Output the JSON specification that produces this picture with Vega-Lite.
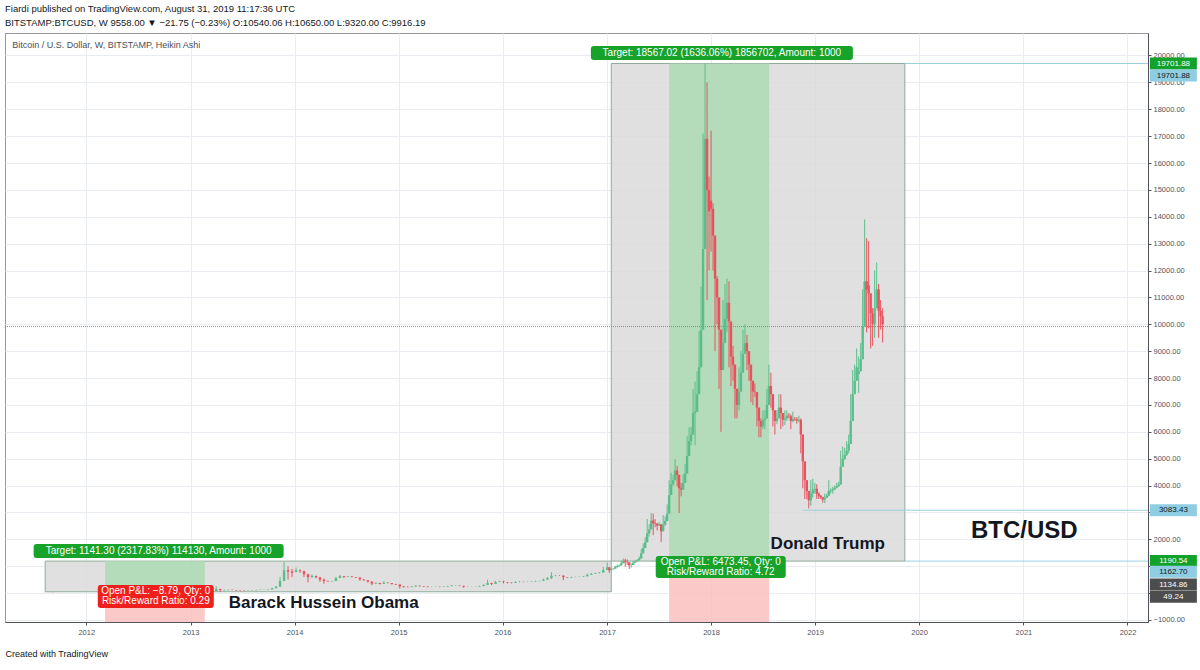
{
  "$schema": "https://vega.github.io/schema/vega-lite/v6.json",
  "width": 1143,
  "height": 589,
  "autosize": "none",
  "padding": {"left": 5, "top": 33, "right": 52, "bottom": 48},
  "background": "white",
  "config": {
    "view": {"stroke": "#9598a1", "strokeWidth": 1},
    "font": "Liberation Sans",
    "scale": {"continuousPadding": 0},
    "axis": {"labelOverlap": false, "labelBound": false},
    "axisX": {
      "grid": true, "gridColor": "#e9ecf0", "domainColor": "#50535e", "tickColor": "#50535e",
      "tickSize": 3, "labelFontSize": 7.5, "labelColor": "#50535e", "labelFont": "Liberation Sans",
      "labelPadding": 3, "labelOverlap": false, "labelFlush": false,
      "titleFontSize": 9, "titleFontWeight": "normal", "titleColor": "#131722",
      "titleFont": "Liberation Sans", "titlePadding": 14, "titleAnchor": "start", "titleAlign": "left"
    },
    "axisY": {
      "grid": true, "gridColor": "#e9ecf0", "domainColor": "#50535e",
      "tickColor": "#50535e", "tickSize": 3, "labelFontSize": 7.5, "labelColor": "#50535e",
      "labelFont": "Liberation Sans", "labelPadding": 2, "labelOverlap": false, "labelFlush": false
    }
  },
  "title": {
    "text": "Fiardi published on TradingView.com, August 31, 2019 11:17:36 UTC",
    "subtitle": "BITSTAMP:BTCUSD, W  9558.00 ▼ −21.75 (−0.23%) O:10540.06 H:10650.00 L:9320.00 C:9916.19",
    "anchor": "start",
    "frame": "group",
    "orient": "top",
    "offset": 6,
    "font": "Liberation Sans",
    "fontSize": 9.5,
    "fontWeight": "normal",
    "color": "#131722",
    "subtitleFont": "Liberation Sans",
    "subtitleFontSize": 9.5,
    "subtitleFontWeight": "normal",
    "subtitleColor": "#131722",
    "subtitlePadding": 4
  },
  "layer": [
    {
      "data": {"values": [
        {"z": "box", "a": "2011-08-10", "b": "2017-01-16", "lo": 49.24, "hi": 1190.54},
        {"z": "box", "a": "2017-01-16", "b": "2019-11-12", "lo": 1190.54, "hi": 19701.88},
        {"z": "tgt", "a": "2012-03-07", "b": "2013-02-20", "lo": 49.24, "hi": 1190.54},
        {"z": "tgt", "a": "2017-08-07", "b": "2018-07-24", "lo": 1134.86, "hi": 19701.88},
        {"z": "stop", "a": "2012-03-07", "b": "2013-02-20", "lo": -2000, "hi": 49.24},
        {"z": "stop", "a": "2017-08-07", "b": "2018-07-24", "lo": -2000, "hi": 1134.86}
      ]},
      "mark": {"type": "rect", "clip": true, "fillOpacity": 0.85, "strokeWidth": 1},
      "encoding": {
        "x": {
          "field": "a", "type": "temporal",
          "scale": {"domain": [{"year": 2011, "month": 3, "date": 22}, {"year": 2022, "month": 3, "date": 14}], "nice": false, "padding": 0},
          "axis": {
            "format": "%Y", "tickCount": {"interval": "year", "step": 1},
            "title": "Created with TradingView", "titleAnchor": "start", "titleAlign": "left"
          }
        },
        "x2": {"field": "b"},
        "y": {
          "field": "lo", "type": "quantitative",
          "scale": {"domain": [-1075, 20837], "nice": false, "zero": false, "padding": 0},
          "axis": {
            "orient": "right",
            "values": [-1000, 0, 1000, 2000, 3000, 4000, 5000, 6000, 7000, 8000, 9000, 10000, 11000, 12000, 13000, 14000, 15000, 16000, 17000, 18000, 19000, 20000],
            "tickCount": 40,
            "format": ".2f", "labelOverlap": false, "title": null
          }
        },
        "y2": {"field": "hi"},
        "fill": {"condition": [{"test": "datum.z === 'box'", "value": "#dbdbdb"}, {"test": "datum.z === 'tgt'", "value": "#addbb3"}], "value": "#fcbfbf"},
        "stroke": {"condition": {"test": "datum.z === 'box'", "value": "#8fab9a"}, "value": null}
      }
    },
    {
      "data": {"values": [
        {"p": 19701.88, "a": "2019-11-12"},
        {"p": 3083.43, "a": "2018-11-20"},
        {"p": 1190.54, "a": "2019-11-12"}
      ]},
      "mark": {"type": "rule", "color": "#9ccfe0", "strokeWidth": 1},
      "encoding": {
        "x": {"field": "a", "type": "temporal"},
        "x2": {"datum": {"year": 2022, "month": 3, "date": 14}},
        "y": {"field": "p", "type": "quantitative"}
      }
    },
    {
      "data": {"values": [{"p": 9916.19}]},
      "mark": {"type": "rule", "color": "#ef5350", "strokeWidth": 1, "strokeDash": [1, 1], "opacity": 0.9},
      "encoding": {"y": {"field": "p", "type": "quantitative"}}
    },
    {
      "data": {"name": "candles"},
      "layer": [
        {
          "mark": {"type": "rule", "strokeWidth": 1, "clip": true},
          "encoding": {
            "x": {"field": "d", "type": "temporal"},
            "y": {"field": "l", "type": "quantitative"},
            "y2": {"field": "h"},
            "color": {"condition": {"test": "datum.c >= datum.o", "value": "#5bbd8b"}, "value": "#e8525e"}
          }
        },
        {
          "mark": {"type": "bar", "width": 2.4, "clip": true},
          "encoding": {
            "x": {"field": "d", "type": "temporal"},
            "y": {"field": "o", "type": "quantitative"},
            "y2": {"field": "c"},
            "color": {"condition": {"test": "datum.c >= datum.o", "value": "#5bbd8b"}, "value": "#e8525e"}
          }
        }
      ]
    },
    {
      "data": {"values": [{"d": "2011-04-16", "p": 20390, "t": "Bitcoin / U.S. Dollar, W, BITSTAMP, Heikin Ashi"}]},
      "mark": {"type": "text", "align": "left", "baseline": "middle", "fontSize": 9, "color": "#4a4e5a", "font": "Liberation Sans"},
      "encoding": {
        "x": {"field": "d", "type": "temporal"},
        "y": {"field": "p", "type": "quantitative"},
        "text": {"field": "t"}
      }
    },
    {
      "data": {"values": [
        {"d": "2013-05-15", "p": -368, "t": "Barack Hussein Obama"},
        {"d": "2018-07-29", "p": 1827, "t": "Donald Trump"}
      ]},
      "mark": {"type": "text", "align": "left", "baseline": "middle", "fontSize": 17, "fontWeight": "bold", "color": "#131722", "font": "Liberation Sans"},
      "encoding": {
        "x": {"field": "d", "type": "temporal"},
        "y": {"field": "p", "type": "quantitative"},
        "text": {"field": "t"}
      }
    },
    {
      "data": {"values": [{"d": "2020-07-01", "p": 2310, "t": "BTC/USD"}]},
      "mark": {"type": "text", "align": "left", "baseline": "middle", "fontSize": 24, "fontWeight": "bold", "color": "#131722", "font": "Liberation Sans"},
      "encoding": {
        "x": {"field": "d", "type": "temporal"},
        "y": {"field": "p", "type": "quantitative"},
        "text": {"field": "t"}
      }
    },
    {
      "data": {"values": [
        {"id": "ot", "d": "2012-09-11", "p": 1566, "t": "Target: 1141.30 (2317.83%) 114130, Amount: 1000"},
        {"id": "tt", "d": "2018-02-08", "p": 20093, "t": "Target: 18567.02 (1636.06%) 1856702, Amount: 1000"},
        {"id": "op", "d": "2012-09-01", "p": -126, "t": "Open P&L: −8.79, Qty: 0\nRisk/Reward Ratio: 0.29"},
        {"id": "tp", "d": "2018-02-04", "p": 971, "t": "Open P&L: 6473.45, Qty: 0\nRisk/Reward Ratio: 4.72"}
      ]},
      "layer": [
        {
          "mark": {"type": "point", "filled": true, "opacity": 1, "strokeWidth": 0},
          "encoding": {
            "x": {"field": "d", "type": "temporal"},
            "y": {"field": "p", "type": "quantitative"},
            "shape": {"condition": [
              {"test": "datum.id === 'ot'", "value": "M-0.976,-0.056 L0.976,-0.056 Q1,-0.056 1,-0.032 L1,0.032 Q1,0.056 0.976,0.056 L-0.976,0.056 Q-1,0.056 -1,0.032 L-1,-0.032 Q-1,-0.056 -0.976,-0.056 Z"},
              {"test": "datum.id === 'tt'", "value": "M-0.977,-0.0534 L0.977,-0.0534 Q1,-0.0534 1,-0.0304 L1,0.0304 Q1,0.0534 0.977,0.0534 L-0.977,0.0534 Q-1,0.0534 -1,0.0304 L-1,-0.0304 Q-1,-0.0534 -0.977,-0.0534 Z"},
              {"test": "datum.id === 'op'", "value": "M-0.948,-0.198 L0.948,-0.198 Q1,-0.198 1,-0.146 L1,0.146 Q1,0.198 0.948,0.198 L-0.948,0.198 Q-1,0.198 -1,0.146 L-1,-0.146 Q-1,-0.198 -0.948,-0.198 Z"}
            ], "value": "M-0.954,-0.169 L0.954,-0.169 Q1,-0.169 1,-0.123 L1,0.123 Q1,0.169 0.954,0.169 L-0.954,0.169 Q-1,0.169 -1,0.123 L-1,-0.123 Q-1,-0.169 -0.954,-0.169 Z"},
            "size": {"condition": [
              {"test": "datum.id === 'ot'", "value": 62500},
              {"test": "datum.id === 'tt'", "value": 68644},
              {"test": "datum.id === 'op'", "value": 13456}
            ], "value": 16900},
            "fill": {"condition": {"test": "datum.id === 'op'", "value": "#ef1f1b"}, "value": "#17a22a"}
          }
        },
        {
          "transform": [{"filter": "indexof(datum.t, '\\n') < 0"}],
          "mark": {"type": "text", "align": "center", "baseline": "middle", "fontSize": 10, "color": "white", "font": "Liberation Sans"},
          "encoding": {
            "x": {"field": "d", "type": "temporal"},
            "y": {"field": "p", "type": "quantitative"},
            "text": {"field": "t"}
          }
        },
        {
          "transform": [{"filter": "indexof(datum.t, '\\n') >= 0"}],
          "mark": {"type": "text", "align": "center", "baseline": "middle", "fontSize": 10, "lineBreak": "\n", "lineHeight": 10, "dy": -5, "color": "white", "font": "Liberation Sans"},
          "encoding": {
            "x": {"field": "d", "type": "temporal"},
            "y": {"field": "p", "type": "quantitative"},
            "text": {"field": "t"}
          }
        }
      ]
    },
    {
      "data": {"values": [
        {"p": 19701.88, "k": "g", "t": "19701.88"},
        {"p": 3083.43, "k": "b", "t": "3083.43"},
        {"p": 1190.54, "k": "g", "t": "1190.54"}
      ]},
      "layer": [
        {
          "mark": {"type": "point", "filled": true, "opacity": 1, "strokeWidth": 0, "shape": "M-1,-0.255 L1,-0.255 L1,0.255 L-1,0.255 Z", "size": 2209},
          "encoding": {
            "x": {"datum": {"year": 2022, "month": 6, "date": 11}, "type": "temporal"},
            "y": {"field": "p", "type": "quantitative"},
            "fill": {"condition": [{"test": "datum.k === 'g'", "value": "#12a12a"}, {"test": "datum.k === 'b'", "value": "#8fcde2"}], "value": "#4d4d4d"}
          }
        },
        {
          "mark": {"type": "text", "align": "center", "baseline": "middle", "fontSize": 8, "font": "Liberation Sans"},
          "encoding": {
            "x": {"datum": {"year": 2022, "month": 6, "date": 11}, "type": "temporal"},
            "y": {"field": "p", "type": "quantitative"},
            "text": {"field": "t"},
            "color": {"condition": {"test": "datum.k === 'b'", "value": "#131722"}, "value": "white"}
          }
        }
      ]
    },
    {
      "data": {"values": [{"p": 19701.88, "k": "b", "t": "19701.88"}]},
      "layer": [
        {
          "mark": {"type": "point", "filled": true, "opacity": 1, "strokeWidth": 0, "shape": "M-1,-0.255 L1,-0.255 L1,0.255 L-1,0.255 Z", "size": 2209, "yOffset": 12},
          "encoding": {
            "x": {"datum": {"year": 2022, "month": 6, "date": 11}, "type": "temporal"},
            "y": {"field": "p", "type": "quantitative"},
            "fill": {"value": "#8fcde2"}
          }
        },
        {
          "mark": {"type": "text", "align": "center", "baseline": "middle", "fontSize": 8, "font": "Liberation Sans", "yOffset": 12, "color": "#131722"},
          "encoding": {
            "x": {"datum": {"year": 2022, "month": 6, "date": 11}, "type": "temporal"},
            "y": {"field": "p", "type": "quantitative"},
            "text": {"field": "t"}
          }
        }
      ]
    },
    {
      "data": {"values": [{"p": 1162.70, "k": "b", "t": "1162.70"}]},
      "layer": [
        {
          "mark": {"type": "point", "filled": true, "opacity": 1, "strokeWidth": 0, "shape": "M-1,-0.255 L1,-0.255 L1,0.255 L-1,0.255 Z", "size": 2209, "yOffset": 10},
          "encoding": {
            "x": {"datum": {"year": 2022, "month": 6, "date": 11}, "type": "temporal"},
            "y": {"field": "p", "type": "quantitative"},
            "fill": {"value": "#8fcde2"}
          }
        },
        {
          "mark": {"type": "text", "align": "center", "baseline": "middle", "fontSize": 8, "font": "Liberation Sans", "yOffset": 10, "color": "#131722"},
          "encoding": {
            "x": {"datum": {"year": 2022, "month": 6, "date": 11}, "type": "temporal"},
            "y": {"field": "p", "type": "quantitative"},
            "text": {"field": "t"}
          }
        }
      ]
    },
    {
      "data": {"values": [{"p": 1134.86, "k": "d", "t": "1134.86"}]},
      "layer": [
        {
          "mark": {"type": "point", "filled": true, "opacity": 1, "strokeWidth": 0, "shape": "M-1,-0.255 L1,-0.255 L1,0.255 L-1,0.255 Z", "size": 2209, "yOffset": 22},
          "encoding": {
            "x": {"datum": {"year": 2022, "month": 6, "date": 11}, "type": "temporal"},
            "y": {"field": "p", "type": "quantitative"},
            "fill": {"value": "#4d4d4d"}
          }
        },
        {
          "mark": {"type": "text", "align": "center", "baseline": "middle", "fontSize": 8, "font": "Liberation Sans", "yOffset": 22, "color": "white"},
          "encoding": {
            "x": {"datum": {"year": 2022, "month": 6, "date": 11}, "type": "temporal"},
            "y": {"field": "p", "type": "quantitative"},
            "text": {"field": "t"}
          }
        }
      ]
    },
    {
      "data": {"values": [{"p": 49.24, "k": "d", "t": "49.24"}]},
      "layer": [
        {
          "mark": {"type": "point", "filled": true, "opacity": 1, "strokeWidth": 0, "shape": "M-1,-0.255 L1,-0.255 L1,0.255 L-1,0.255 Z", "size": 2209, "yOffset": 5},
          "encoding": {
            "x": {"datum": {"year": 2022, "month": 6, "date": 11}, "type": "temporal"},
            "y": {"field": "p", "type": "quantitative"},
            "fill": {"value": "#4d4d4d"}
          }
        },
        {
          "mark": {"type": "text", "align": "center", "baseline": "middle", "fontSize": 8, "font": "Liberation Sans", "yOffset": 5, "color": "white"},
          "encoding": {
            "x": {"datum": {"year": 2022, "month": 6, "date": 11}, "type": "temporal"},
            "y": {"field": "p", "type": "quantitative"},
            "text": {"field": "t"}
          }
        }
      ]
    }
  ],
  "datasets": {
    "candles": [
      {"d":"2011-08-08","o":11,"h":13,"l":7,"c":10},
      {"d":"2011-08-22","o":10,"h":11,"l":8,"c":9},
      {"d":"2011-09-05","o":9,"h":9,"l":4,"c":6},
      {"d":"2011-09-19","o":6,"h":6,"l":4,"c":5},
      {"d":"2011-10-03","o":5,"h":5,"l":3,"c":4},
      {"d":"2011-10-17","o":4,"h":4,"l":2,"c":3},
      {"d":"2011-10-31","o":3,"h":3,"l":2,"c":3},
      {"d":"2011-11-14","o":3,"h":3,"l":2,"c":2},
      {"d":"2011-11-28","o":2,"h":3,"l":2,"c":3},
      {"d":"2011-12-12","o":3,"h":4,"l":3,"c":4},
      {"d":"2011-12-26","o":4,"h":5,"l":4,"c":5},
      {"d":"2012-01-09","o":5,"h":7,"l":5,"c":6},
      {"d":"2012-01-23","o":6,"h":6,"l":5,"c":6},
      {"d":"2012-02-06","o":6,"h":6,"l":5,"c":5},
      {"d":"2012-02-20","o":5,"h":5,"l":4,"c":5},
      {"d":"2012-03-05","o":5,"h":5,"l":4,"c":5},
      {"d":"2012-03-19","o":5,"h":5,"l":4,"c":5},
      {"d":"2012-04-02","o":5,"h":5,"l":4,"c":5},
      {"d":"2012-04-16","o":5,"h":5,"l":5,"c":5},
      {"d":"2012-04-30","o":5,"h":5,"l":5,"c":5},
      {"d":"2012-05-14","o":5,"h":5,"l":5,"c":5},
      {"d":"2012-05-28","o":5,"h":6,"l":5,"c":5},
      {"d":"2012-06-11","o":5,"h":7,"l":5,"c":6},
      {"d":"2012-06-25","o":6,"h":7,"l":6,"c":7},
      {"d":"2012-07-09","o":7,"h":8,"l":7,"c":8},
      {"d":"2012-07-23","o":8,"h":9,"l":8,"c":9},
      {"d":"2012-08-06","o":9,"h":11,"l":9,"c":10},
      {"d":"2012-08-20","o":10,"h":16,"l":8,"c":11},
      {"d":"2012-09-03","o":11,"h":12,"l":10,"c":11},
      {"d":"2012-09-17","o":11,"h":13,"l":11,"c":12},
      {"d":"2012-10-01","o":12,"h":13,"l":11,"c":12},
      {"d":"2012-10-15","o":12,"h":12,"l":11,"c":11},
      {"d":"2012-10-29","o":11,"h":11,"l":10,"c":11},
      {"d":"2012-11-12","o":11,"h":12,"l":11,"c":11},
      {"d":"2012-11-26","o":11,"h":13,"l":11,"c":12},
      {"d":"2012-12-10","o":12,"h":14,"l":12,"c":13},
      {"d":"2012-12-24","o":13,"h":14,"l":13,"c":13},
      {"d":"2013-01-07","o":13,"h":15,"l":13,"c":14},
      {"d":"2013-01-21","o":14,"h":18,"l":14,"c":17},
      {"d":"2013-02-04","o":17,"h":22,"l":17,"c":21},
      {"d":"2013-02-18","o":21,"h":30,"l":21,"c":28},
      {"d":"2013-03-04","o":28,"h":45,"l":28,"c":40},
      {"d":"2013-03-18","o":40,"h":80,"l":38,"c":70},
      {"d":"2013-04-01","o":70,"h":260,"l":70,"c":150},
      {"d":"2013-04-15","o":150,"h":160,"l":50,"c":110},
      {"d":"2013-04-29","o":110,"h":130,"l":80,"c":110},
      {"d":"2013-05-13","o":110,"h":130,"l":100,"c":120},
      {"d":"2013-05-27","o":120,"h":130,"l":100,"c":115},
      {"d":"2013-06-10","o":115,"h":115,"l":90,"c":100},
      {"d":"2013-06-24","o":100,"h":100,"l":70,"c":90},
      {"d":"2013-07-08","o":90,"h":100,"l":70,"c":85},
      {"d":"2013-07-22","o":85,"h":100,"l":85,"c":95},
      {"d":"2013-08-05","o":95,"h":110,"l":95,"c":105},
      {"d":"2013-08-19","o":105,"h":125,"l":105,"c":118},
      {"d":"2013-09-02","o":118,"h":130,"l":115,"c":125},
      {"d":"2013-09-16","o":125,"h":135,"l":120,"c":128},
      {"d":"2013-09-30","o":128,"h":150,"l":110,"c":135},
      {"d":"2013-10-14","o":135,"h":200,"l":135,"c":180},
      {"d":"2013-10-28","o":180,"h":260,"l":180,"c":240},
      {"d":"2013-11-11","o":240,"h":600,"l":240,"c":450},
      {"d":"2013-11-25","o":450,"h":1160,"l":450,"c":850},
      {"d":"2013-12-09","o":850,"h":1000,"l":500,"c":800},
      {"d":"2013-12-23","o":800,"h":900,"l":600,"c":750},
      {"d":"2014-01-06","o":780,"h":950,"l":780,"c":850},
      {"d":"2014-01-20","o":850,"h":880,"l":750,"c":820},
      {"d":"2014-02-03","o":820,"h":830,"l":600,"c":700},
      {"d":"2014-02-17","o":700,"h":720,"l":400,"c":600},
      {"d":"2014-03-03","o":600,"h":700,"l":550,"c":640},
      {"d":"2014-03-17","o":640,"h":650,"l":550,"c":590},
      {"d":"2014-03-31","o":590,"h":600,"l":420,"c":500},
      {"d":"2014-04-14","o":500,"h":540,"l":350,"c":450},
      {"d":"2014-04-28","o":450,"h":470,"l":420,"c":440},
      {"d":"2014-05-12","o":440,"h":460,"l":430,"c":450},
      {"d":"2014-05-26","o":450,"h":600,"l":450,"c":560},
      {"d":"2014-06-09","o":560,"h":680,"l":560,"c":630},
      {"d":"2014-06-23","o":630,"h":640,"l":560,"c":600},
      {"d":"2014-07-07","o":600,"h":640,"l":600,"c":620},
      {"d":"2014-07-21","o":620,"h":630,"l":580,"c":600},
      {"d":"2014-08-04","o":600,"h":600,"l":560,"c":580},
      {"d":"2014-08-18","o":580,"h":580,"l":460,"c":510},
      {"d":"2014-09-01","o":510,"h":510,"l":460,"c":480},
      {"d":"2014-09-15","o":480,"h":480,"l":390,"c":430},
      {"d":"2014-09-29","o":430,"h":430,"l":290,"c":350},
      {"d":"2014-10-13","o":350,"h":400,"l":350,"c":380},
      {"d":"2014-10-27","o":380,"h":380,"l":320,"c":340},
      {"d":"2014-11-10","o":340,"h":440,"l":340,"c":390},
      {"d":"2014-11-24","o":390,"h":400,"l":360,"c":375},
      {"d":"2014-12-08","o":375,"h":375,"l":320,"c":340},
      {"d":"2014-12-22","o":340,"h":340,"l":300,"c":320},
      {"d":"2015-01-05","o":320,"h":320,"l":170,"c":250},
      {"d":"2015-01-19","o":250,"h":260,"l":200,"c":230},
      {"d":"2015-02-02","o":230,"h":250,"l":210,"c":225},
      {"d":"2015-02-16","o":225,"h":260,"l":220,"c":245},
      {"d":"2015-03-02","o":245,"h":300,"l":245,"c":275},
      {"d":"2015-03-16","o":275,"h":280,"l":240,"c":260},
      {"d":"2015-03-30","o":260,"h":260,"l":230,"c":245},
      {"d":"2015-04-13","o":245,"h":245,"l":215,"c":230},
      {"d":"2015-04-27","o":230,"h":240,"l":220,"c":232},
      {"d":"2015-05-11","o":232,"h":245,"l":230,"c":238},
      {"d":"2015-05-25","o":238,"h":240,"l":220,"c":230},
      {"d":"2015-06-08","o":230,"h":250,"l":225,"c":240},
      {"d":"2015-06-22","o":240,"h":270,"l":240,"c":258},
      {"d":"2015-07-06","o":258,"h":300,"l":258,"c":280},
      {"d":"2015-07-20","o":280,"h":295,"l":270,"c":282},
      {"d":"2015-08-03","o":282,"h":285,"l":260,"c":270},
      {"d":"2015-08-17","o":270,"h":270,"l":200,"c":235},
      {"d":"2015-08-31","o":235,"h":240,"l":225,"c":232},
      {"d":"2015-09-14","o":232,"h":240,"l":225,"c":233},
      {"d":"2015-09-28","o":233,"h":245,"l":232,"c":240},
      {"d":"2015-10-12","o":240,"h":275,"l":240,"c":260},
      {"d":"2015-10-26","o":260,"h":330,"l":260,"c":300},
      {"d":"2015-11-09","o":300,"h":500,"l":300,"c":380},
      {"d":"2015-11-23","o":380,"h":380,"l":300,"c":340},
      {"d":"2015-12-07","o":340,"h":460,"l":340,"c":410},
      {"d":"2015-12-21","o":410,"h":460,"l":410,"c":430},
      {"d":"2016-01-04","o":430,"h":460,"l":360,"c":410},
      {"d":"2016-01-18","o":410,"h":410,"l":360,"c":390},
      {"d":"2016-02-01","o":390,"h":390,"l":360,"c":375},
      {"d":"2016-02-15","o":375,"h":440,"l":375,"c":410},
      {"d":"2016-02-29","o":410,"h":440,"l":400,"c":418},
      {"d":"2016-03-14","o":418,"h":420,"l":400,"c":412},
      {"d":"2016-03-28","o":412,"h":425,"l":410,"c":418},
      {"d":"2016-04-11","o":418,"h":440,"l":418,"c":430},
      {"d":"2016-04-25","o":430,"h":460,"l":430,"c":448},
      {"d":"2016-05-09","o":448,"h":460,"l":440,"c":452},
      {"d":"2016-05-23","o":452,"h":540,"l":452,"c":500},
      {"d":"2016-06-06","o":500,"h":600,"l":500,"c":560},
      {"d":"2016-06-20","o":560,"h":780,"l":520,"c":650},
      {"d":"2016-07-04","o":650,"h":680,"l":630,"c":655},
      {"d":"2016-07-18","o":655,"h":670,"l":640,"c":652},
      {"d":"2016-08-01","o":652,"h":655,"l":480,"c":590},
      {"d":"2016-08-15","o":590,"h":590,"l":560,"c":578},
      {"d":"2016-08-29","o":578,"h":610,"l":570,"c":595},
      {"d":"2016-09-12","o":595,"h":610,"l":590,"c":602},
      {"d":"2016-09-26","o":602,"h":615,"l":600,"c":608},
      {"d":"2016-10-10","o":608,"h":640,"l":605,"c":625},
      {"d":"2016-10-24","o":625,"h":730,"l":625,"c":680},
      {"d":"2016-11-07","o":680,"h":750,"l":680,"c":715},
      {"d":"2016-11-21","o":715,"h":760,"l":715,"c":740},
      {"d":"2016-12-05","o":740,"h":780,"l":740,"c":765},
      {"d":"2016-12-19","o":765,"h":970,"l":765,"c":860},
      {"d":"2017-01-02","o":860,"h":1140,"l":860,"c":960},
      {"d":"2017-01-09","o":960,"h":960,"l":750,"c":850},
      {"d":"2017-01-16","o":850,"h":930,"l":850,"c":890},
      {"d":"2017-01-23","o":890,"h":930,"l":880,"c":905},
      {"d":"2017-01-30","o":905,"h":1020,"l":905,"c":970},
      {"d":"2017-02-06","o":970,"h":1060,"l":940,"c":1000},
      {"d":"2017-02-13","o":1000,"h":1060,"l":990,"c":1030},
      {"d":"2017-02-20","o":1030,"h":1200,"l":1030,"c":1110},
      {"d":"2017-02-27","o":1110,"h":1290,"l":1110,"c":1200},
      {"d":"2017-03-06","o":1200,"h":1280,"l":980,"c":1150},
      {"d":"2017-03-13","o":1150,"h":1250,"l":1050,"c":1145},
      {"d":"2017-03-20","o":1145,"h":1145,"l":900,"c":1040},
      {"d":"2017-03-27","o":1040,"h":1100,"l":950,"c":1045},
      {"d":"2017-04-03","o":1045,"h":1200,"l":1045,"c":1130},
      {"d":"2017-04-10","o":1130,"h":1220,"l":1130,"c":1180},
      {"d":"2017-04-17","o":1180,"h":1260,"l":1180,"c":1220},
      {"d":"2017-04-24","o":1220,"h":1360,"l":1220,"c":1290},
      {"d":"2017-05-01","o":1290,"h":1650,"l":1290,"c":1480},
      {"d":"2017-05-08","o":1480,"h":1850,"l":1480,"c":1680},
      {"d":"2017-05-15","o":1680,"h":2080,"l":1680,"c":1890},
      {"d":"2017-05-22","o":1890,"h":2760,"l":1890,"c":2220},
      {"d":"2017-05-29","o":2220,"h":2560,"l":2100,"c":2370},
      {"d":"2017-06-05","o":2370,"h":2980,"l":2370,"c":2700},
      {"d":"2017-06-12","o":2700,"h":2960,"l":2160,"c":2600},
      {"d":"2017-06-19","o":2600,"h":2750,"l":2450,"c":2580},
      {"d":"2017-06-26","o":2580,"h":2610,"l":2330,"c":2510},
      {"d":"2017-07-03","o":2510,"h":2650,"l":2500,"c":2560},
      {"d":"2017-07-10","o":2560,"h":2560,"l":1900,"c":2300},
      {"d":"2017-07-17","o":2300,"h":2900,"l":2300,"c":2550},
      {"d":"2017-07-24","o":2550,"h":2850,"l":2500,"c":2680},
      {"d":"2017-07-31","o":2680,"h":3300,"l":2680,"c":2950},
      {"d":"2017-08-07","o":2950,"h":4200,"l":2950,"c":3650},
      {"d":"2017-08-14","o":3650,"h":4480,"l":3650,"c":4050},
      {"d":"2017-08-21","o":4050,"h":4400,"l":3990,"c":4200},
      {"d":"2017-08-28","o":4200,"h":4980,"l":4200,"c":4560},
      {"d":"2017-09-04","o":4560,"h":4730,"l":3970,"c":4400},
      {"d":"2017-09-11","o":4400,"h":4400,"l":2980,"c":3900},
      {"d":"2017-09-18","o":3900,"h":4100,"l":3600,"c":3850},
      {"d":"2017-09-25","o":3850,"h":4420,"l":3850,"c":4100},
      {"d":"2017-10-02","o":4100,"h":4800,"l":4100,"c":4450},
      {"d":"2017-10-09","o":4450,"h":5850,"l":4450,"c":5100},
      {"d":"2017-10-16","o":5100,"h":6170,"l":5100,"c":5650},
      {"d":"2017-10-23","o":5650,"h":6190,"l":5500,"c":5900},
      {"d":"2017-10-30","o":5900,"h":7600,"l":5900,"c":6700},
      {"d":"2017-11-06","o":6700,"h":7870,"l":5500,"c":6750},
      {"d":"2017-11-13","o":6750,"h":8250,"l":6750,"c":7400},
      {"d":"2017-11-20","o":7400,"h":9740,"l":7400,"c":8400},
      {"d":"2017-11-27","o":8400,"h":11400,"l":8400,"c":9800},
      {"d":"2017-12-04","o":9800,"h":17100,"l":9800,"c":12800},
      {"d":"2017-12-11","o":12800,"h":19700,"l":12800,"c":16900},
      {"d":"2017-12-18","o":16900,"h":19000,"l":10900,"c":15000},
      {"d":"2017-12-25","o":15000,"h":15500,"l":12000,"c":14200},
      {"d":"2018-01-01","o":14600,"h":17200,"l":12700,"c":14300},
      {"d":"2018-01-08","o":14300,"h":14500,"l":12000,"c":13300},
      {"d":"2018-01-15","o":13300,"h":13300,"l":9000,"c":11700},
      {"d":"2018-01-22","o":11700,"h":11800,"l":10000,"c":11000},
      {"d":"2018-01-29","o":11000,"h":11000,"l":7600,"c":9800},
      {"d":"2018-02-05","o":9800,"h":9800,"l":6000,"c":8300},
      {"d":"2018-02-12","o":8300,"h":10900,"l":8300,"c":9300},
      {"d":"2018-02-19","o":9300,"h":11500,"l":9300,"c":10200},
      {"d":"2018-02-26","o":10200,"h":11700,"l":9700,"c":10800},
      {"d":"2018-03-05","o":10800,"h":11600,"l":8400,"c":10100},
      {"d":"2018-03-12","o":10100,"h":10100,"l":7700,"c":8800},
      {"d":"2018-03-19","o":8800,"h":9200,"l":7900,"c":8500},
      {"d":"2018-03-26","o":8500,"h":8500,"l":6500,"c":7600},
      {"d":"2018-04-02","o":7600,"h":7600,"l":6500,"c":7000},
      {"d":"2018-04-09","o":7000,"h":8400,"l":6800,"c":7500},
      {"d":"2018-04-16","o":7500,"h":9000,"l":7500,"c":8200},
      {"d":"2018-04-23","o":8200,"h":9800,"l":8200,"c":8900},
      {"d":"2018-04-30","o":8900,"h":10000,"l":8900,"c":9300},
      {"d":"2018-05-07","o":9300,"h":9600,"l":8300,"c":9000},
      {"d":"2018-05-14","o":9000,"h":9000,"l":7900,"c":8500},
      {"d":"2018-05-21","o":8500,"h":8500,"l":7100,"c":7900},
      {"d":"2018-05-28","o":7900,"h":7900,"l":7000,"c":7500},
      {"d":"2018-06-04","o":7500,"h":7800,"l":7300,"c":7480},
      {"d":"2018-06-11","o":7480,"h":7480,"l":6200,"c":6900},
      {"d":"2018-06-18","o":6900,"h":6900,"l":5800,"c":6400},
      {"d":"2018-06-25","o":6400,"h":6500,"l":5800,"c":6200},
      {"d":"2018-07-02","o":6200,"h":6800,"l":6100,"c":6450},
      {"d":"2018-07-09","o":6450,"h":6800,"l":6100,"c":6500},
      {"d":"2018-07-16","o":6500,"h":7600,"l":6500,"c":7000},
      {"d":"2018-07-23","o":7000,"h":8500,"l":7000,"c":7700},
      {"d":"2018-07-30","o":7700,"h":8200,"l":6900,"c":7400},
      {"d":"2018-08-06","o":7400,"h":7400,"l":6200,"c":6800},
      {"d":"2018-08-13","o":6800,"h":6800,"l":5900,"c":6400},
      {"d":"2018-08-20","o":6400,"h":6800,"l":6300,"c":6500},
      {"d":"2018-08-27","o":6500,"h":7400,"l":6500,"c":6900},
      {"d":"2018-09-03","o":6900,"h":7400,"l":6100,"c":6700},
      {"d":"2018-09-10","o":6700,"h":6700,"l":6200,"c":6450},
      {"d":"2018-09-17","o":6450,"h":6800,"l":6250,"c":6500},
      {"d":"2018-09-24","o":6500,"h":6800,"l":6400,"c":6600},
      {"d":"2018-10-01","o":6600,"h":6700,"l":6500,"c":6580},
      {"d":"2018-10-08","o":6580,"h":6650,"l":6100,"c":6400},
      {"d":"2018-10-15","o":6400,"h":6750,"l":6350,"c":6480},
      {"d":"2018-10-22","o":6480,"h":6550,"l":6400,"c":6470},
      {"d":"2018-10-29","o":6470,"h":6550,"l":6300,"c":6420},
      {"d":"2018-11-05","o":6420,"h":6600,"l":6350,"c":6450},
      {"d":"2018-11-12","o":6450,"h":6500,"l":5200,"c":5900},
      {"d":"2018-11-19","o":5900,"h":5900,"l":3900,"c":4900},
      {"d":"2018-11-26","o":4900,"h":4900,"l":3500,"c":4200},
      {"d":"2018-12-03","o":4200,"h":4200,"l":3500,"c":3800},
      {"d":"2018-12-10","o":3800,"h":3800,"l":3150,"c":3450},
      {"d":"2018-12-17","o":3450,"h":4200,"l":3250,"c":3700},
      {"d":"2018-12-24","o":3700,"h":4250,"l":3550,"c":3850},
      {"d":"2018-12-31","o":3850,"h":4100,"l":3700,"c":3880},
      {"d":"2019-01-07","o":3880,"h":4050,"l":3500,"c":3700},
      {"d":"2019-01-14","o":3700,"h":3750,"l":3500,"c":3620},
      {"d":"2019-01-21","o":3620,"h":3650,"l":3500,"c":3570},
      {"d":"2019-01-28","o":3570,"h":3580,"l":3360,"c":3480},
      {"d":"2019-02-04","o":3480,"h":3700,"l":3350,"c":3540},
      {"d":"2019-02-11","o":3540,"h":3700,"l":3540,"c":3620},
      {"d":"2019-02-18","o":3620,"h":4200,"l":3600,"c":3800},
      {"d":"2019-02-25","o":3800,"h":3900,"l":3700,"c":3820},
      {"d":"2019-03-04","o":3820,"h":3950,"l":3700,"c":3860},
      {"d":"2019-03-11","o":3860,"h":4000,"l":3830,"c":3920},
      {"d":"2019-03-18","o":3920,"h":4100,"l":3900,"c":3980},
      {"d":"2019-03-25","o":3980,"h":4150,"l":3950,"c":4040},
      {"d":"2019-04-01","o":4040,"h":5300,"l":4040,"c":4700},
      {"d":"2019-04-08","o":4700,"h":5450,"l":4700,"c":5000},
      {"d":"2019-04-15","o":5000,"h":5400,"l":4950,"c":5150},
      {"d":"2019-04-22","o":5150,"h":5650,"l":5100,"c":5300},
      {"d":"2019-04-29","o":5300,"h":5900,"l":5200,"c":5550},
      {"d":"2019-05-06","o":5550,"h":7400,"l":5550,"c":6400},
      {"d":"2019-05-13","o":6400,"h":8300,"l":6400,"c":7400},
      {"d":"2019-05-20","o":7400,"h":8500,"l":7400,"c":7900},
      {"d":"2019-05-27","o":7900,"h":9100,"l":7900,"c":8400},
      {"d":"2019-06-03","o":8150,"h":8800,"l":7450,"c":8250},
      {"d":"2019-06-10","o":8250,"h":9300,"l":8250,"c":8700},
      {"d":"2019-06-17","o":8700,"h":11300,"l":8700,"c":9900},
      {"d":"2019-06-24","o":9900,"h":13900,"l":9900,"c":11600},
      {"d":"2019-07-01","o":11600,"h":13200,"l":9700,"c":11300},
      {"d":"2019-07-08","o":11450,"h":13100,"l":9850,"c":11150},
      {"d":"2019-07-15","o":11150,"h":11150,"l":9100,"c":10400},
      {"d":"2019-07-22","o":10400,"h":10600,"l":9200,"c":10000},
      {"d":"2019-07-29","o":10000,"h":12000,"l":9500,"c":10600},
      {"d":"2019-08-05","o":10600,"h":12300,"l":10600,"c":11300},
      {"d":"2019-08-12","o":11300,"h":11500,"l":9500,"c":10500},
      {"d":"2019-08-19","o":10500,"h":10900,"l":9800,"c":10300},
      {"d":"2019-08-26","o":10300,"h":10600,"l":9320,"c":10000}
    ]
  }
}
